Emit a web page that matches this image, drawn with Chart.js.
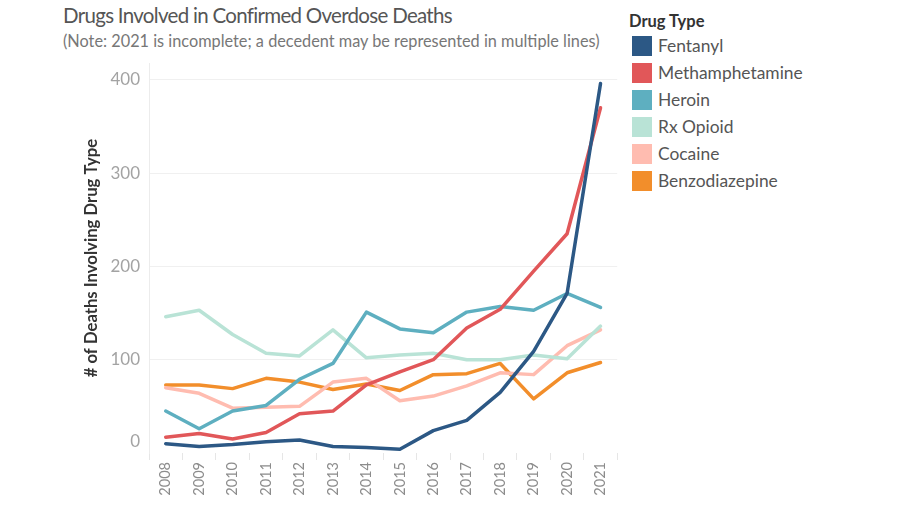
<!DOCTYPE html>
<html>
<head>
<meta charset="utf-8">
<script src="https://cdn.jsdelivr.net/npm/chart.js@4"></script>
<style>
  html, body { margin:0; padding:0; background:#fff; width:900px; height:506px; overflow:hidden; }
  body { position:relative; font-family: Lato, "Open Sans", sans-serif; }
  #title { position:absolute; left:63px; top:3px; font-size:20.5px; letter-spacing:-0.7px; color:#555; white-space:nowrap; }
  #subtitle { position:absolute; left:63px; top:31px; font-size:16.3px; color:#777; white-space:nowrap; }
  #chartWrap { position:absolute; left:0; top:0; width:620px; height:506px; }
  #legend { position:absolute; left:629px; top:10px; }
  #legend .lt { font-size:16.5px; font-weight:bold; color:#333; height:22px; line-height:22px; }
  #legend .it { position:relative; height:27px; }
  #legend .sw { position:absolute; left:3px; top:4px; width:20px; height:20px; }
  #legend .tx { position:absolute; left:29px; top:0; line-height:28px; font-size:17.4px; color:#555; white-space:nowrap; }
</style>
</head>
<body>
<div id="title">Drugs Involved in Confirmed Overdose Deaths</div>
<div id="subtitle">(Note: 2021 is incomplete; a decedent may be represented in multiple lines)</div>
<div id="chartWrap"><canvas id="c" width="620" height="506"></canvas></div>
<div id="legend"></div>
<script>
const years = ["2008","2009","2010","2011","2012","2013","2014","2015","2016","2017","2018","2019","2020","2021"];
const seriesNames = ["Fentanyl","Methamphetamine","Heroin","Rx Opioid","Cocaine","Benzodiazepine"];
const fentanyl        = [10, 7, 9, 12, 14, 7, 6, 4, 24, 35, 65, 109, 171, 396];
const methamphetamine = [17, 21, 15, 22, 42, 45, 73, 87, 100, 134, 154, 195, 235, 370];
const heroin          = [45, 26, 45, 51, 79, 96, 151, 133, 129, 151, 157, 153, 171, 156];
const rxOpioid        = [146, 153, 127, 107, 104, 132, 102, 105, 107, 100, 100, 105, 101, 136];
const cocaine         = [70, 64, 48, 49, 50, 76, 80, 56, 61, 72, 86, 84, 115, 132];
const benzodiazepine  = [73, 73, 69, 80, 76, 68, 74, 67, 84, 85, 96, 58, 86, 97];
const yTicks = [0, 100, 200, 300, 400];

const seriesData = [fentanyl, methamphetamine, heroin, rxOpioid, cocaine, benzodiazepine];
const colors = ["#2c5885", "#e15759", "#5eafc0", "#b9e3d6", "#ffbcb0", "#f28e2b"];

const legend = document.getElementById('legend');
let lh = '<div class="lt">Drug Type</div>';
seriesNames.forEach((n, i) => {
  lh += '<div class="it"><div class="sw" style="background:' + colors[i] + '"></div><div class="tx">' + n + '</div></div>';
});
legend.innerHTML = lh;

const tickFont = 'Lato, "Open Sans", sans-serif';
const zeroLabel = {
  id: 'zeroLabel',
  afterDraw(chart) {
    const ctx = chart.ctx, ys = chart.scales.y;
    ctx.save();
    ctx.font = '17px ' + tickFont;
    ctx.fillStyle = '#a3a3a3';
    ctx.textAlign = 'right';
    ctx.textBaseline = 'middle';
    ctx.fillText(String(yTicks[0]), ys.right - 9, ys.getPixelForValue(yTicks[0]) - 11);
    ctx.restore();
  }
};

new Chart(document.getElementById('c'), {
  type: 'line',
  data: {
    labels: years,
    datasets: seriesNames.map((n, i) => ({
      label: n,
      data: seriesData[i],
      borderColor: colors[i],
      backgroundColor: colors[i],
      borderWidth: 3.5,
      pointRadius: 0,
      tension: 0,
      borderCapStyle: 'round',
      borderJoinStyle: 'round',
      fill: false
    }))
  },
  options: {
    responsive: false,
    animation: false,
    layout: { padding: { left: 82, right: 2, top: 63, bottom: 0 } },
    plugins: { legend: { display: false }, tooltip: { enabled: false }, title: { display: false } },
    scales: {
      x: {
        type: 'category',
        offset: true,
        grid: { offset: true, drawOnChartArea: false, color: '#e6e6e6', tickLength: 7 },
        border: { display: false },
        ticks: { minRotation: 90, maxRotation: 90, autoSkip: false, color: '#8c8c8c', padding: 2,
                 font: { family: tickFont, size: 14.5 } },
        afterFit(scale) { scale.height = 53; }
      },
      y: {
        min: 0, max: 418,
        afterBuildTicks(scale) { scale.ticks = yTicks.map(v => ({ value: v })); },
        grid: { color: ctx => (ctx.tick && ctx.tick.value === 0) ? 'rgba(0,0,0,0)' : '#f0f0f0', lineWidth: 1, drawTicks: false },
        border: { display: true, color: '#ececec' },
        ticks: { color: '#a3a3a3', padding: 9, callback: v => v === 0 ? '' : String(v),
                 font: { family: tickFont, size: 17 } },
        title: { display: true, text: '# of Deaths Involving Drug Type', color: '#333',
                 font: { family: tickFont, size: 16.7, weight: 'bold' }, padding: { top: 0, bottom: 0 } },
        afterFit(scale) { scale.width = 67; }
      }
    }
  },
  plugins: [zeroLabel]
});
</script>
</body>
</html>
